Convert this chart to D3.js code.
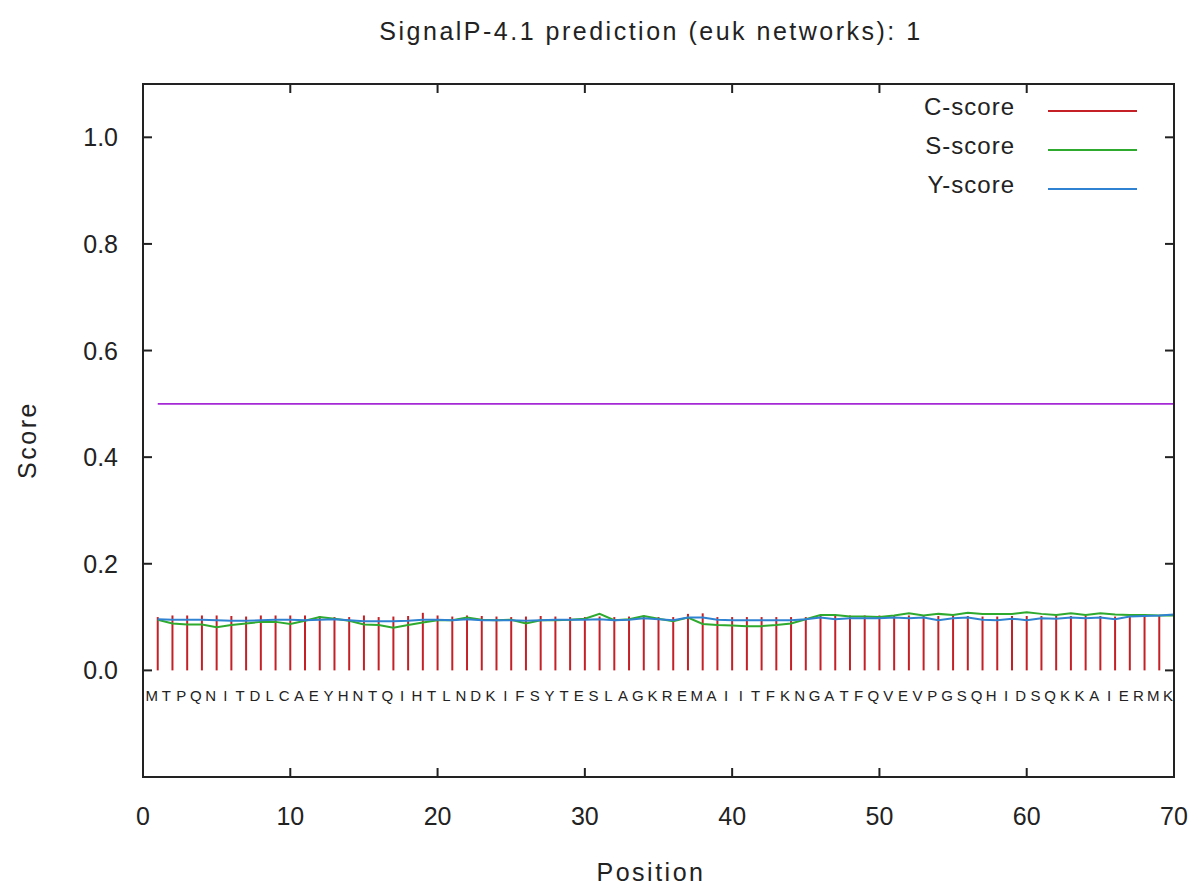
<!DOCTYPE html>
<html>
<head>
<meta charset="utf-8">
<script src="https://cdn.jsdelivr.net/npm/d3@7"></script>
<style>
  body { margin: 0; background: #fff; }
  text { font-family: "Liberation Sans", Arial, sans-serif; fill: #222; }
</style>
</head>
<body>
<svg id="svg_main" width="1199" height="891"></svg>
<script>
var seq = 'MTPQNITDLCAEYHNTQIHTLNDKIFSYTESLAGKREMAIITFKNGATFQVEVPGSQHIDSQKKAIERMK'.split('')

var c_score = [0.100,0.103,0.103,0.103,0.103,0.102,0.101,0.103,0.103,0.103,
               0.103,0.102,0.100,0.100,0.103,0.100,0.101,0.102,0.108,0.103,
               0.101,0.103,0.102,0.101,0.100,0.101,0.102,0.101,0.100,0.100,
               0.101,0.100,0.101,0.103,0.100,0.100,0.106,0.107,0.100,0.100,
               0.100,0.100,0.100,0.100,0.100,0.103,0.103,0.103,0.103,0.103,
               0.102,0.103,0.102,0.102,0.103,0.102,0.101,0.101,0.102,0.102,
               0.102,0.103,0.102,0.102,0.102,0.101,0.102,0.102,0.102,0.102]

var s_score = [0.095,0.088,0.086,0.086,0.081,0.085,0.088,0.091,0.091,0.087,
               0.093,0.100,0.097,0.093,0.086,0.085,0.080,0.085,0.090,0.094,
               0.094,0.099,0.095,0.094,0.095,0.088,0.094,0.094,0.095,0.097,
               0.106,0.094,0.096,0.102,0.097,0.092,0.099,0.087,0.085,0.084,
               0.083,0.083,0.085,0.088,0.096,0.104,0.104,0.101,0.101,0.100,
               0.103,0.107,0.103,0.106,0.104,0.108,0.106,0.106,0.106,0.109,
               0.106,0.104,0.107,0.104,0.107,0.105,0.104,0.104,0.103,0.103]

var y_score = [0.096,0.095,0.095,0.095,0.094,0.093,0.093,0.094,0.095,0.095,
               0.094,0.095,0.096,0.094,0.092,0.092,0.092,0.093,0.095,0.095,
               0.094,0.096,0.094,0.094,0.094,0.093,0.094,0.095,0.095,0.095,
               0.096,0.094,0.095,0.098,0.096,0.094,0.099,0.099,0.095,0.094,
               0.094,0.094,0.094,0.094,0.096,0.099,0.096,0.098,0.098,0.098,
               0.099,0.098,0.099,0.094,0.098,0.099,0.095,0.094,0.097,0.094,
               0.098,0.097,0.099,0.098,0.099,0.096,0.101,0.102,0.103,0.105]

var cutoff = 0.5
var x_ticks = [0,10,20,30,40,50,60,70]
var y_ticks = [0.0,0.2,0.4,0.6,0.8,1.0]
var legend_items = ['C-score','S-score','Y-score']
var colors = ['#c42026','#2eaa2e','#2f82d2']

const margin = { top: 84, right: 25, bottom: 114, left: 143 };
    width = 1199 - margin.left - margin.right,
    height = 891 - margin.top - margin.bottom;

function mapPlot(){
    var svg = d3.select("#svg_main")
    var g = svg.append("g").attr("transform","translate("+margin.left+","+margin.top+")")

    var x = d3.scaleLinear().domain([0,70]).range([0,width])
    var y = d3.scaleLinear().domain([-0.2,1.1]).range([height,0])

    // cutoff line
    g.append("line")
        .attr("x1",x(1)).attr("x2",x(70))
        .attr("y1",y(cutoff)).attr("y2",y(cutoff))
        .style("stroke","#a52ad6").style("stroke-width",1.8)

    // C-score impulses
    g.append("g").selectAll("line")
        .data(c_score)
        .enter()
        .append("line")
          .attr("x1",function(d,i){ return x(i+1) })
          .attr("x2",function(d,i){ return x(i+1) })
          .attr("y1",y(0)).attr("y2",function(d){ return y(d) })
          .style("stroke",colors[0]).style("stroke-width",2)

    var line = d3.line().x(function(d,i){ return x(i+1) }).y(function(d){ return y(d) })
    g.append("path").datum(s_score).attr("d",line)
        .style("fill","none").style("stroke",colors[1]).style("stroke-width",2)
    g.append("path").datum(y_score).attr("d",line)
        .style("fill","none").style("stroke",colors[2]).style("stroke-width",2)

    // sequence letters
    g.append("g").selectAll("text")
        .data(seq)
        .enter()
        .append("text")
          .attr("x",function(d,i){ return x(i+1) - 6 })
          .attr("y",y(-0.058))
          .attr("text-anchor","middle")
          .style("font-size","15px")
          .text(function(d){ return d })

    // frame
    g.append("rect").attr("width",width).attr("height",height)
        .style("fill","none").style("stroke","#222").style("stroke-width",2)

    // ticks (mirrored, pointing inward)
    var tk = 9
    x_ticks.forEach(function(t){
        g.append("line").attr("x1",x(t)).attr("x2",x(t)).attr("y1",height).attr("y2",height-tk).style("stroke","#222").style("stroke-width",2)
        g.append("line").attr("x1",x(t)).attr("x2",x(t)).attr("y1",0).attr("y2",tk).style("stroke","#222").style("stroke-width",2)
        g.append("text").attr("x",x(t)).attr("y",height+48).attr("text-anchor","middle")
            .style("font-size","25px").text(t)
    })
    y_ticks.forEach(function(t){
        g.append("line").attr("x1",0).attr("x2",tk).attr("y1",y(t)).attr("y2",y(t)).style("stroke","#222").style("stroke-width",2)
        g.append("line").attr("x1",width).attr("x2",width-tk).attr("y1",y(t)).attr("y2",y(t)).style("stroke","#222").style("stroke-width",2)
        g.append("text").attr("x",-25).attr("y",y(t)+9).attr("text-anchor","end")
            .style("font-size","25px").text(d3.format(".1f")(t))
    })

    // legend
    legend_items.forEach(function(name,i){
        var ly = 23 + i*39
        g.append("text").attr("x",872).attr("y",ly+8).attr("text-anchor","end")
            .style("font-size","24px").style("letter-spacing","1px").text(name)
        g.append("line").attr("x1",905).attr("x2",994).attr("y1",ly+4).attr("y2",ly+4)
            .style("stroke",colors[i]).style("stroke-width",2)
    })

    svg.append("text").attr("x",651).attr("y",40).attr("text-anchor","middle")
        .style("font-size","25px").style("letter-spacing","2.5px")
        .text("SignalP-4.1 prediction (euk networks): 1")
    svg.append("text").attr("x",651).attr("y",881).attr("text-anchor","middle")
        .style("font-size","25px").style("letter-spacing","2.5px").text("Position")
    svg.append("text").attr("transform","translate(36,440) rotate(-90)").attr("text-anchor","middle")
        .style("font-size","25px").style("letter-spacing","2.5px").text("Score")
}

mapPlot()
</script>
</body>
</html>
